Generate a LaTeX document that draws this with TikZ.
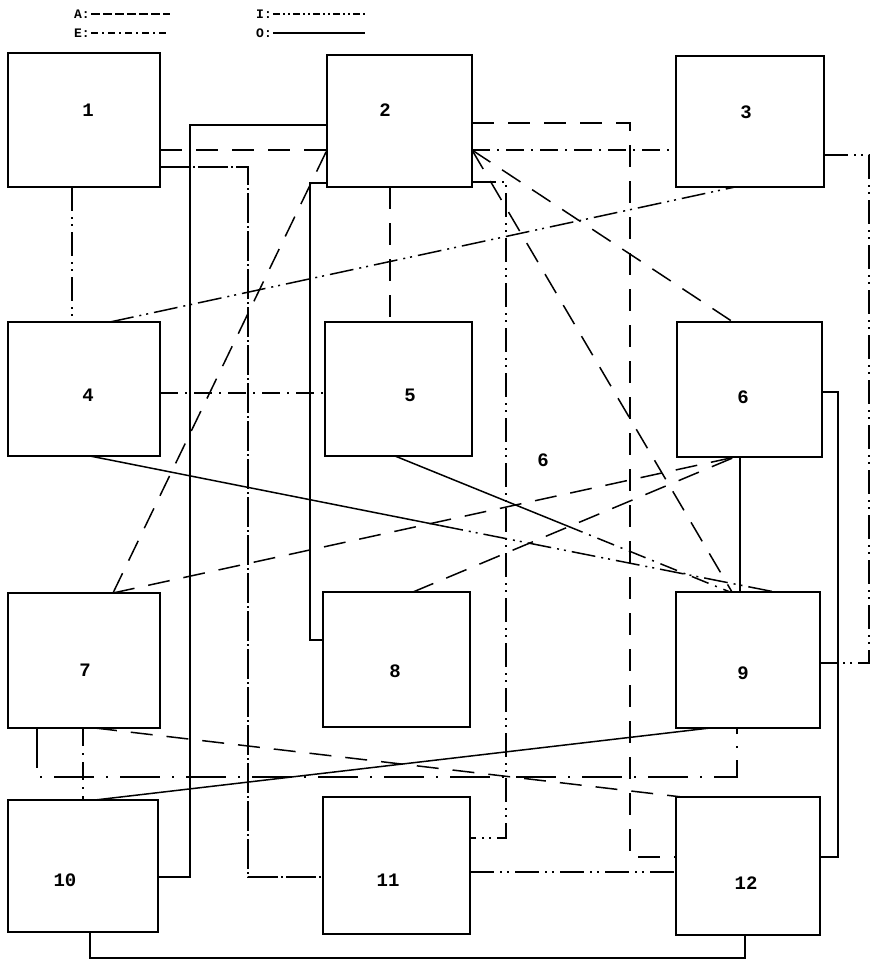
\documentclass[tikz,border=0pt]{standalone}
\usepackage{fontspec}
\setmainfont{Liberation Mono}
\usetikzlibrary{calc}
\begin{document}
\begin{tikzpicture}[x=1pt,y=-1pt,
  box/.style={draw,line width=1.8pt,inner sep=0pt,outer sep=0pt},
  lab/.style={font=\fontsize{19}{19}\selectfont\bfseries,inner sep=0pt},
  legtxt/.style={font=\fontsize{13}{13}\selectfont\bfseries,inner sep=1pt},
  lnA/.style={line width=1.5pt,dash pattern=on 22pt off 14pt},
  lnE/.style={line width=1.5pt,dash pattern=on 18pt off 7pt on 2pt off 7pt},
  lnEl/.style={line width=1.5pt,dash pattern=on 30pt off 3pt on 2pt off 3pt},
  lnEs/.style={line width=1.5pt,dash pattern=on 40pt off 12pt on 2pt off 12pt},
  lnI/.style={line width=1.5pt,dash pattern=on 24pt off 6pt on 2pt off 5pt on 2pt off 6pt},
  lnO/.style={line width=1.5pt},
  legA/.style={line width=1.6pt,dash pattern=on 9pt off 3pt},
  legE/.style={line width=1.6pt,dash pattern=on 7pt off 4pt on 2pt off 4pt},
  legI/.style={line width=1.6pt,dash pattern=on 7pt off 3pt on 2pt off 3pt on 2pt off 3pt},
]
\useasboundingbox (0,0) rectangle (873,962);
% boxes
\node[box,minimum width=152pt,minimum height=134pt] (b1) at (84,120) {};
\node[box,minimum width=145pt,minimum height=132pt] (b2) at (399.5,121) {};
\node[box,minimum width=148pt,minimum height=131pt] (b3) at (750,121.5) {};
\node[box,minimum width=152pt,minimum height=134pt] (b4) at (84,389) {};
\node[box,minimum width=147pt,minimum height=134pt] (b5) at (398.5,389) {};
\node[box,minimum width=145pt,minimum height=135pt] (b6) at (749.5,389.5) {};
\node[box,minimum width=152pt,minimum height=135pt] (b7) at (84,660.5) {};
\node[box,minimum width=147pt,minimum height=135pt] (b8) at (396.5,659.5) {};
\node[box,minimum width=144pt,minimum height=136pt] (b9) at (748,660) {};
\node[box,minimum width=150pt,minimum height=132pt] (b10) at (83,866) {};
\node[box,minimum width=147pt,minimum height=137pt] (b11) at (396.5,865.5) {};
\node[box,minimum width=144pt,minimum height=138pt] (b12) at (748,866) {};
% labels
\node[lab] (t1) at (88,110) {1};
\node[lab] (t2) at (385,110) {2};
\node[lab] (t3) at (746,112) {3};
\node[lab] (t4) at (88,395) {4};
\node[lab] (t5) at (410,395) {5};
\node[lab] (t6) at (743,397) {6};
\node[lab] (t7) at (85,670) {7};
\node[lab] (t8) at (395,671) {8};
\node[lab] (t9) at (743,673) {9};
\node[lab] (t10) at (65,880) {10};
\node[lab] (t11) at (388,880) {11};
\node[lab] (t12) at (746,883) {12};
\node[lab] (tq) at (543,460) {6};
% legend
\node[legtxt] (lA) at (82,14) {A:};
\node[legtxt] (lE) at (82,33) {E:};
\node[legtxt] (lI) at (264,14) {I:};
\node[legtxt] (lO) at (264,33) {O:};
\coordinate (lAe) at (170,14);
\coordinate (lEe) at (166,33);
\coordinate (lIe) at (365,14);
\coordinate (lOe) at (365,33);
\draw[legA] (lA.east) -- (lAe);
\draw[legE] (lE.east) -- (lEe);
\draw[legI] (lI.east) -- (lIe);
\draw[lnO] (lO.east) -- (lOe);
% connectors
\draw[lnA] (b1.east |- 0,150) -- (b2.west |- 0,150);
\draw[lnE] (b2.east |- 0,150) -- (b3.west |- 0,150);
\draw[lnA] (b2.east |- 0,123) -| (630,857) -- (b12.west |- 0,857);
\draw[lnO] (b2.west |- 0,125) -| (190,877) -- (b10.east |- 0,877);
\draw[lnEl] (b1.east |- 0,167) -| (248,877) -- (b11.west |- 0,877);
\draw[lnO] (b2.west |- 0,183) -| (310,640) -- (b8.west |- 0,640);
\draw[lnI] (72,0 |- b1.south) -- (72,0 |- b4.north);
\draw[lnA] (390,0 |- b2.south) -- (390,0 |- b5.north);
\draw[lnE] (b4.east |- 0,393) -- (b5.west |- 0,393);
\draw[lnI] (110,0 |- b4.north) -- (735,0 |- b3.south);
\draw[lnA] (b2.east |- 0,150) -- (733,0 |- b6.north);
\draw[lnA] (b2.east |- 0,150) -- (732,0 |- b9.north);
\draw[lnI] (b2.east |- 0,182) -| (506,838) -- (b11.east |- 0,838);
\draw[lnI] (b3.east |- 0,155) -| (869,663) -- (b9.east |- 0,663);
\draw[lnO] (b6.east |- 0,392) -| (838,857) -- (b12.east |- 0,857);
\draw[lnO] (740,0 |- b6.south) -- (740,0 |- b9.north);
% 4 -> 9
\coordinate (p4s) at (90,0 |- b4.south);
\coordinate (p9a) at (775,0 |- b9.north);
\coordinate (m49) at ($(p4s)!0.51!(p9a)$);
\draw[lnO] (p4s) -- (m49);
\draw[lnI] (m49) -- (p9a);
% 5 -> 9
\coordinate (p5s) at (395,0 |- b5.south);
\coordinate (p9b) at (730,0 |- b9.north);
\coordinate (m59) at ($(p5s)!0.51!(p9b)$);
\draw[lnO] (p5s) -- (m59);
\draw[lnE] (m59) -- (p9b);
% to 6 bottom
\draw[lnA] (113,0 |- b7.north) -- (b2.west |- 0,150);
\draw[lnA] (113,0 |- b7.north) -- (735,0 |- b6.south);
\draw[lnA] (413,0 |- b8.north) -- (735,0 |- b6.south);
% bottom area
\draw[lnEs] (37,0 |- b7.south) |- (737,777) -- (737,0 |- b9.south);
\draw[lnE] (83,0 |- b7.south) -- (83,0 |- b10.north);
\draw[lnA] (95,0 |- b7.south) -- (682,0 |- b12.north);
\draw[lnO] (95,0 |- b10.north) -- (710,0 |- b9.south);
\draw[lnI] (b11.east |- 0,872) -- (b12.west |- 0,872);
\draw[lnO] (90,0 |- b10.south) |- (745,958) -- (745,0 |- b12.south);
\end{tikzpicture}
\end{document}
